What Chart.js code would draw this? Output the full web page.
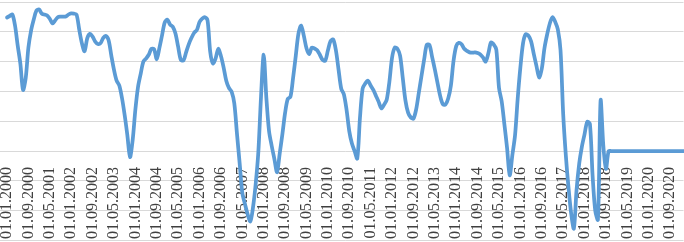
<!DOCTYPE html>
<html>
<head>
<meta charset="utf-8">
<script src="https://cdn.jsdelivr.net/npm/chart.js@4.4.1/dist/chart.umd.min.js"></script>
<style>
  html, body { margin: 0; padding: 0; background: #fff; overflow: hidden; }
</style>
</head>
<body>
<canvas id="myChart" width="684" height="242"></canvas>
<script>
'use strict';

// *********** DATA ***********
// monthly series, first month = 01.01.2000
let startYear = 2000;

let seriesValues = [
  4.48, 4.53, 4.58, 4.21, 3.54, 2.93, 2.05, 2.45, 3.47, 4.04,
  4.41, 4.71, 4.75, 4.61, 4.58, 4.55, 4.44, 4.28, 4.38, 4.49,
  4.51, 4.51, 4.51, 4.58, 4.62, 4.61, 4.58, 4.08, 3.62, 3.35,
  3.78, 3.93, 3.84, 3.67, 3.59, 3.62, 3.80, 3.86, 3.72, 3.21,
  2.73, 2.36, 2.20, 1.78, 1.21, 0.54, -0.20, 0.37, 1.38, 2.15,
  2.59, 3.00, 3.10, 3.23, 3.43, 3.42, 3.08, 3.46, 3.89, 4.32,
  4.41, 4.24, 4.17, 3.94, 3.50, 3.06, 3.04, 3.32, 3.59, 3.80,
  3.97, 4.06, 4.33, 4.44, 4.49, 4.38, 3.33, 2.94, 3.10, 3.43,
  3.19, 2.81, 2.36, 2.12, 1.99, 1.60, 0.59, -0.40, -1.41, -1.78,
  -2.12, -2.36, -1.89, -1.11, -0.03, 1.82, 3.23, 1.78, 0.67, 0.17,
  -0.27, -0.71, -0.07, 0.57, 1.28, 1.75, 1.82, 2.46, 3.20, 3.94,
  4.21, 3.87, 3.45, 3.25, 3.47, 3.44, 3.38, 3.23, 3.06, 3.03,
  3.37, 3.69, 3.74, 3.38, 2.73, 2.09, 1.90, 1.38, 0.67, 0.25,
  0.00, -0.25, 1.11, 2.10, 2.27, 2.36, 2.20, 2.05, 1.85, 1.65,
  1.43, 1.55, 1.72, 2.32, 3.13, 3.47, 3.43, 3.20, 2.46, 1.70,
  1.29, 1.13, 1.09, 1.39, 1.95, 2.51, 3.07, 3.57, 3.56, 3.15,
  2.74, 2.29, 1.85, 1.57, 1.56, 1.76, 2.19, 3.03, 3.52, 3.63,
  3.58, 3.43, 3.36, 3.31, 3.30, 3.31, 3.29, 3.24, 3.14, 3.00,
  3.27, 3.64, 3.58, 3.40, 2.12, 1.67, 0.91, 0.12, -0.81, -0.13,
  0.53, 1.77, 2.81, 3.62, 3.92, 3.87, 3.68, 3.26, 2.86, 2.47,
  2.76, 3.45, 3.91, 4.28, 4.49, 4.34, 4.08, 3.39, 1.25, -0.15,
  -1.23, -2.10, -2.60, -1.31, -0.42, 0.15, 0.57, 0.98, 0.91, -0.82,
  -2.00, -2.30, 1.70, 0.20, -0.60, 0, 0, 0, 0, 0,
  0, 0, 0, 0, 0, 0, 0, 0, 0, 0,
  0, 0, 0, 0, 0, 0, 0, 0, 0, 0,
  0, 0, 0, 0
];

// labels that are shown on the x axis (every 8th month)
let tickLabels = [
  '01.01.2000', '01.09.2000', '01.05.2001', '01.01.2002', '01.09.2002',
  '01.05.2003', '01.01.2004', '01.09.2004', '01.05.2005', '01.01.2006',
  '01.09.2006', '01.05.2007', '01.01.2008', '01.09.2008', '01.05.2009',
  '01.01.2010', '01.09.2010', '01.05.2011', '01.01.2012', '01.09.2012',
  '01.05.2013', '01.01.2014', '01.09.2014', '01.05.2015', '01.01.2016',
  '01.09.2016', '01.05.2017', '01.01.2018', '01.09.2018', '01.05.2019',
  '01.01.2020', '01.09.2020'
];

// y axis range (labels are not shown)
let yMin = -3;
let yMax = 5;

// categories: one per month
let categories = [];
for (let i = 0; i < seriesValues.length; i++) {
  let month = (i % 12) + 1;
  let year = startYear + Math.floor(i / 12);
  categories.push('01.' + String(month).padStart(2, '0') + '.' + year);
}

// ********** CHART ***********
let ctx = document.getElementById('myChart').getContext('2d');

let myChartObj = {
  type: 'line',
  data: {
    labels: categories,
    datasets: [{
      data: seriesValues,
      borderColor: '#5B9BD5',
      borderWidth: 3.75,
      borderJoinStyle: 'round',
      borderCapStyle: 'round',
      pointRadius: 0,
      tension: 0.3,
      fill: false
    }]
  },
  options: {
    responsive: false,
    devicePixelRatio: 1,
    animation: false,
    layout: {
      padding: { left: 0, right: 0.5, top: 2, bottom: 1.5 }
    },
    plugins: {
      legend: { display: false },
      tooltip: { enabled: false }
    },
    scales: {
      x: {
        type: 'category',
        position: { y: 0 },
        grid: { display: false },
        border: { display: false },
        ticks: {
          autoSkip: false,
          minRotation: 90,
          maxRotation: 90,
          padding: 8,
          color: '#404040',
          font: { family: 'Liberation Serif', size: 16 },
          callback: function (value, index) {
            let label = categories[index];
            return tickLabels.includes(label) ? label : '';
          }
        },
        afterFit: function (scale) {
          scale.paddingLeft = 0;
          scale.paddingRight = 0;
        }
      },
      y: {
        min: yMin,
        max: yMax,
        grid: {
          color: '#d9d9d9',
          lineWidth: 1,
          drawTicks: true,
          tickLength: 7
        },
        border: { display: false },
        ticks: {
          display: false,
          stepSize: 1
        }
      }
    }
  }
};

const myChart = new Chart(ctx, myChartObj);
</script>
</body>
</html>
